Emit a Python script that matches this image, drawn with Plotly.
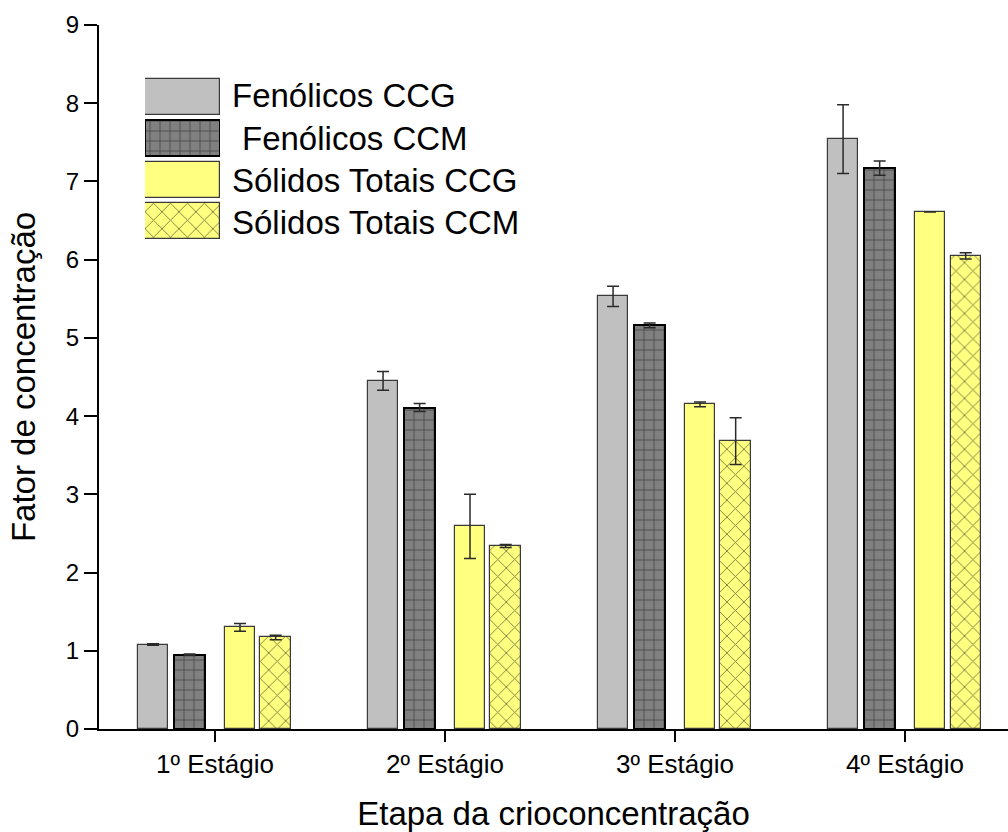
import plotly.graph_objects as go

# Concentration factor per cryoconcentration stage
stages = ["1º Estágio", "2º Estágio", "3º Estágio", "4º Estágio"]

fen_ccg = [1.08, 4.45, 5.53, 7.54]
fen_ccg_err = [0.01, 0.12, 0.13, 0.44]

fen_ccm = [0.95, 4.11, 5.16, 7.17]
fen_ccm_err = [0.01, 0.05, 0.03, 0.09]

sol_ccg = [1.30, 2.59, 4.15, 6.61]
sol_ccg_err = [0.05, 0.41, 0.03, None]

sol_ccm = [1.17, 2.34, 3.68, 6.05]
sol_ccm_err = [0.03, 0.02, 0.30, 0.04]

series_names = ["Fenólicos CCG", " Fenólicos CCM", "Sólidos Totais CCG", "Sólidos Totais CCM"]

FONT = "Liberation Sans, Arial"

styles = [
    dict(color="#C0C0C0", line=dict(color="#3a3a3a", width=1.2), pattern=dict(shape="")),
    dict(color="#808080", line=dict(color="#000000", width=2),
         pattern=dict(shape="+", fgcolor="#000000", size=10, solidity=0.14)),
    dict(color="#FFFF80", line=dict(color="#3a3a3a", width=1.2), pattern=dict(shape="")),
    dict(color="#FFFF80", line=dict(color="#3a3a3a", width=1.2),
         pattern=dict(shape="x", fgcolor="#000000", size=12, solidity=0.15)),
]
offsets = [-0.335, -0.176, 0.043, 0.198]
bar_w = 0.132

values = [fen_ccg, fen_ccm, sol_ccg, sol_ccm]
errors = [fen_ccg_err, fen_ccm_err, sol_ccg_err, sol_ccm_err]

fig = go.Figure()
for name, vals, errs, st, off in zip(series_names, values, errors, styles, offsets):
    fig.add_trace(go.Bar(
        x=stages, y=vals, name=name.strip(), offset=off, width=bar_w,
        marker=st, showlegend=False,
        error_y=dict(type="data", array=errs, visible=True, color="#2a2a2a",
                     thickness=1.5, width=6),
    ))

# Legend swatches drawn as horizontal bars on an inset axis
for i, st in enumerate(styles):
    fig.add_trace(go.Bar(
        x=[1], y=[i], orientation="h", width=0.86, marker=st,
        xaxis="x2", yaxis="y2", showlegend=False, hoverinfo="skip",
    ))

plot_top, plot_bottom, plot_left, plot_right = 25, 729, 99, 1008
H = plot_bottom - plot_top
W = plot_right - plot_left

def px_x(p):
    return (p - plot_left) / W

def px_y(p):
    return (plot_bottom - p) / H

row_centers = [96, 138, 180.5, 222.5]
for i, (name, yc) in enumerate(zip(series_names, row_centers)):
    fig.add_annotation(
        x=px_x(230 + (10 if i == 1 else 0)), y=px_y(yc), xref="paper", yref="paper",
        text=name.strip(), showarrow=False, xanchor="left", yanchor="middle",
        font=dict(family=FONT, size=33, color="#000000"),
    )

fig.update_layout(
    width=1008, height=832,
    margin=dict(l=plot_left, r=1008 - plot_right, t=plot_top, b=832 - plot_bottom),
    paper_bgcolor="white", plot_bgcolor="white",
    barmode="overlay", bargap=0,
    xaxis=dict(
        range=[-0.504, 3.448], showline=True, linecolor="#000000", linewidth=2,
        ticks="outside", ticklen=11, tickwidth=2, tickcolor="#000000",
        showgrid=False, zeroline=False,
        tickfont=dict(family=FONT, size=26, color="#000000"),
        title=dict(text="Etapa da crioconcentração", standoff=24,
                   font=dict(family=FONT, size=33, color="#000000")),
    ),
    yaxis=dict(
        range=[0, 9], dtick=1, showline=True, linecolor="#000000", linewidth=2,
        ticks="outside", ticklen=13, tickwidth=2, tickcolor="#000000",
        showgrid=False, zeroline=False,
        tickfont=dict(family=FONT, size=24, color="#000000"),
        title=dict(text="Fator de concentração", standoff=20,
                   font=dict(family=FONT, size=33, color="#000000")),
    ),
    xaxis2=dict(domain=[px_x(145), px_x(220)], range=[0, 1], anchor="y2",
                visible=False, fixedrange=True),
    yaxis2=dict(domain=[px_y(242), px_y(76)], range=[3.5, -0.5], anchor="x2",
                visible=False, fixedrange=True),
)

fig.write_html("out.html")
